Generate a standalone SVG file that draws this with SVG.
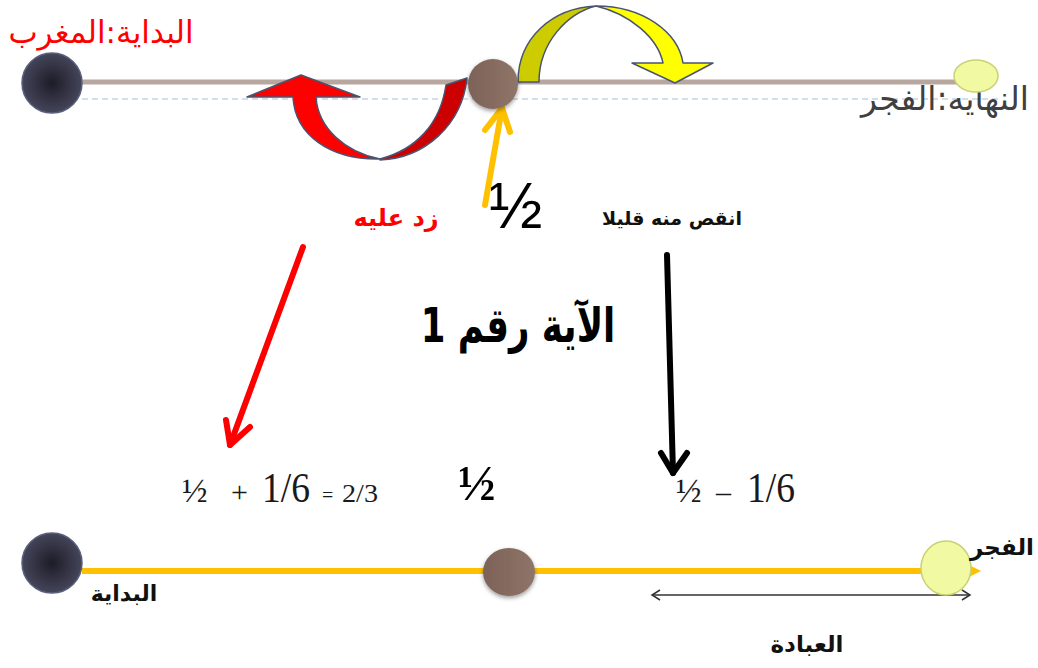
<svg xmlns="http://www.w3.org/2000/svg" width="1038" height="668" viewBox="0 0 1038 668">
<style>
.ar{font-family:"DejaVu Sans","Noto Sans",sans-serif;}
.num{font-family:"Liberation Serif","DejaVu Serif",serif;fill:#1a1a1a;}
.bold{font-weight:bold;}
.outline{stroke:#4a5470;stroke-width:1.5;stroke-linejoin:round;}
.arr{fill:none;stroke-width:6;stroke-linecap:round;stroke-linejoin:round;}
</style>
<defs>
<radialGradient id="dark" cx="0.5" cy="0.5" r="0.5">
<stop offset="0" stop-color="#1c1c28"/>
<stop offset="1" stop-color="#45455a"/>
</radialGradient>
<linearGradient id="brown" x1="0" y1="0" x2="1" y2="0">
<stop offset="0" stop-color="#7d6258"/>
<stop offset="1" stop-color="#8f7468"/>
</linearGradient>
<filter id="sh" x="-30%" y="-30%" width="160%" height="170%">
<feDropShadow dx="0" dy="2" stdDeviation="2" flood-opacity="0.4"/>
</filter>
</defs>
<rect width="1038" height="668" fill="#ffffff"/>

<g id="connectors">
<line x1="82" y1="82" x2="965" y2="82" stroke="#b7a79f" stroke-width="5"/>
<line x1="82" y1="99" x2="1000" y2="99" stroke="#a9bdd1" stroke-width="1.2" stroke-dasharray="6 4"/>
<line x1="82" y1="571" x2="972" y2="571" stroke="#ffc000" stroke-width="6"/>
<polygon points="969,565 981,571 969,577" fill="#ffc000"/>
<g id="red-uturn">
<path class="outline" fill="#ff0000" d="M247,97 L301,75 L360,97 L316,97 C318,128 345,152 380,159 C330,160 295,135 293,97 Z"/>
<path class="outline" fill="#cc0000" d="M380,160 C425,158 462,125 467,78 L446,85 C440,125 415,150 380,159 Z"/>
</g>
<g id="yellow-uturn">
<path class="outline" fill="#cccc00" d="M518,82 C518,38 552,8 596,6 C568,13 539,42 539,82 Z"/>
<path class="outline" fill="#ffff00" d="M596,6 C643,6 678,32 683,63 L713,63 L675,83 L632,63 L663,63 C658,38 630,14 596,6 Z"/>
</g>
<g id="arrow-half" class="arr" stroke="#ffc000">
<line x1="485" y1="205" x2="502" y2="108"/>
<polyline points="485,130 502,108 510,132"/>
</g>
<g id="arrow-add" class="arr" stroke="#ff0000">
<line x1="303" y1="247" x2="230" y2="445"/>
<polyline points="226,420 230,445 250,427"/>
</g>
<g id="arrow-sub" class="arr" stroke="#000000">
<line x1="667" y1="255" x2="673" y2="473"/>
<polyline points="661,453 673,473 687,453"/>
</g>
<g id="worship-span" stroke="#333333" stroke-width="1.5" fill="none">
<line x1="652" y1="595" x2="970" y2="595"/>
<polyline points="660,590 652,595 660,600"/>
<polyline points="962,590 970,595 962,600"/>
</g>
</g>

<g id="top-start">
<circle cx="52" cy="83" r="30" fill="url(#dark)" stroke="#58607e" stroke-width="1.5"/>
<text class="ar" x="101" y="43" font-size="31" fill="#ff0000" text-anchor="middle" direction="rtl">البداية:المغرب</text>
</g>
<g id="top-middle">
<circle cx="493" cy="84" r="25" fill="url(#brown)" filter="url(#sh)"/>
</g>
<g id="top-end">
<text class="ar" x="945" y="110" font-size="33" fill="#404040" text-anchor="middle" direction="rtl">النهايه:الفجر</text>
<ellipse cx="976" cy="76" rx="22" ry="16" fill="#f1f9a2" stroke="#c9d172" stroke-width="1.5"/>
</g>

<g id="label-add"><text class="ar bold" x="396" y="226" font-size="24" fill="#ff0000" text-anchor="middle" direction="rtl">زد عليه</text></g>
<g id="label-half"><text x="489" y="228" font-family="Liberation Sans, sans-serif" font-size="64" fill="#000000">½</text></g>
<g id="label-sub"><text class="ar bold" x="672" y="225" font-size="19" fill="#111111" text-anchor="middle" direction="rtl">انقص منه قليلا</text></g>
<g id="title"><text class="ar bold" font-size="48" fill="#000000" text-anchor="middle" direction="rtl" transform="translate(518,342) scale(0.74,1)">الآية رقم 1</text></g>

<g id="formula-add" class="num">
<text x="182" y="502" font-size="34">½</text>
<text x="231" y="502" font-size="30">+</text>
<text x="262" y="502" font-size="42" textLength="48" lengthAdjust="spacingAndGlyphs">1/6</text>
<text x="322" y="502" font-size="20">=</text>
<text x="342" y="502" font-size="26" textLength="36" lengthAdjust="spacingAndGlyphs">2/3</text>
</g>
<g id="formula-half" class="num"><text x="458" y="500" font-size="50" font-weight="bold" fill="#000">½</text></g>
<g id="formula-sub" class="num">
<text x="676" y="502" font-size="34">½</text>
<text x="716" y="502" font-size="30">–</text>
<text x="747" y="502" font-size="42" textLength="48" lengthAdjust="spacingAndGlyphs">1/6</text>
</g>

<g id="bottom-start">
<circle cx="52" cy="563" r="30" fill="url(#dark)" stroke="#58607e" stroke-width="1.5"/>
<text class="ar bold" x="124" y="601" font-size="22" fill="#111111" text-anchor="middle" direction="rtl">البداية</text>
</g>
<g id="bottom-middle">
<ellipse cx="509" cy="572" rx="26" ry="24" fill="url(#brown)" filter="url(#sh)"/>
</g>
<g id="bottom-end">
<ellipse cx="946" cy="568" rx="25" ry="27" fill="#f1f9a2" stroke="#c9d172" stroke-width="1.5"/>
<text class="ar bold" x="1002" y="555" font-size="23" fill="#111111" text-anchor="middle" direction="rtl">الفجر</text>
</g>
<g id="label-worship"><text class="ar bold" x="807" y="652" font-size="23" fill="#111111" text-anchor="middle" direction="rtl">العبادة</text></g>
</svg>
